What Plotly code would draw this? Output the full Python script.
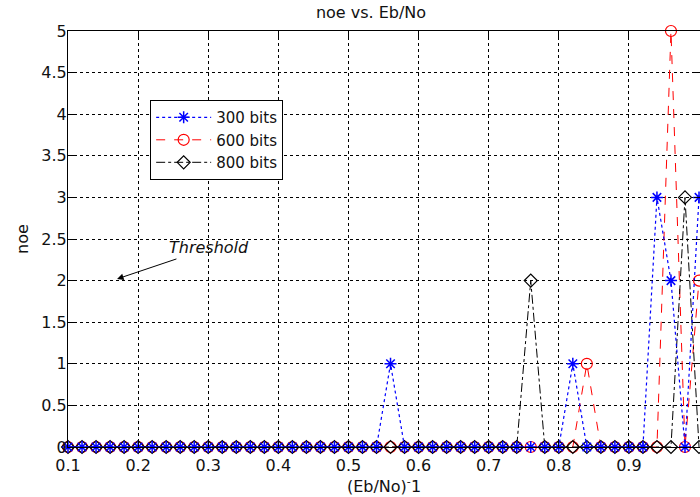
import plotly.graph_objects as go

x_vals = [0.10, 0.12, 0.14, 0.16, 0.18, 0.20, 0.22, 0.24, 0.26, 0.28,
          0.30, 0.32, 0.34, 0.36, 0.38, 0.40, 0.42, 0.44, 0.46, 0.48,
          0.50, 0.52, 0.54, 0.56, 0.58, 0.60, 0.62, 0.64, 0.66, 0.68,
          0.70, 0.72, 0.74, 0.76, 0.78, 0.80, 0.82, 0.84, 0.86, 0.88,
          0.90, 0.92, 0.94, 0.96, 0.98, 1.00]

noe_300 = [0, 0, 0, 0, 0, 0, 0, 0, 0, 0,
           0, 0, 0, 0, 0, 0, 0, 0, 0, 0,
           0, 0, 0, 1, 0, 0, 0, 0, 0, 0,
           0, 0, 0, 0, 0, 0, 1, 0, 0, 0,
           0, 0, 3, 2, 0, 3]
noe_600 = [0, 0, 0, 0, 0, 0, 0, 0, 0, 0,
           0, 0, 0, 0, 0, 0, 0, 0, 0, 0,
           0, 0, 0, 0, 0, 0, 0, 0, 0, 0,
           0, 0, 0, 0, 0, 0, 0, 1, 0, 0,
           0, 0, 0, 5, 0, 2]
noe_800 = [0, 0, 0, 0, 0, 0, 0, 0, 0, 0,
           0, 0, 0, 0, 0, 0, 0, 0, 0, 0,
           0, 0, 0, 0, 0, 0, 0, 0, 0, 0,
           0, 0, 0, 2, 0, 0, 0, 0, 0, 0,
           0, 0, 0, 0, 3, 0]

x_ticks = [0.1, 0.2, 0.3, 0.4, 0.5, 0.6, 0.7, 0.8, 0.9, 1.0]
x_tick_text = ["0.1", "0.2", "0.3", "0.4", "0.5", "0.6", "0.7", "0.8", "0.9", "1"]
y_ticks = [0, 0.5, 1, 1.5, 2, 2.5, 3, 3.5, 4, 4.5, 5]
y_tick_text = ["0", "0.5", "1", "1.5", "2", "2.5", "3", "3.5", "4", "4.5", "5"]

FONT = "DejaVu Sans"
TXT = "#111111"

fig = go.Figure()
fig.add_trace(go.Scatter(
    x=x_vals, y=noe_600, name="600 bits", mode="lines+markers", legendrank=2,
    line=dict(color="#ff0000", width=1, dash="dash"),
    marker=dict(symbol="circle-open", size=11, color="#ff0000", line=dict(width=1.2)),
    cliponaxis=False))
fig.add_trace(go.Scatter(
    x=x_vals, y=noe_800, name="800 bits", mode="lines+markers", legendrank=3,
    line=dict(color="#000000", width=1, dash="dashdot"),
    marker=dict(symbol="diamond-open", size=10, color="#000000", line=dict(width=1.2)),
    cliponaxis=False))
fig.add_trace(go.Scatter(
    x=x_vals, y=noe_300, name="300 bits", mode="lines+markers", legendrank=1,
    line=dict(color="#0000ff", width=1.2, dash="dot"),
    marker=dict(symbol="asterisk-open", size=10, color="#0000ff", line=dict(width=1.5)),
    cliponaxis=False))

fig.add_annotation(
    x=0.170, y=2.02, ax=92, ay=-31, xref="x", yref="y",
    text="<i>Threshold</i>", showarrow=True, arrowhead=2, arrowsize=1.3, arrowwidth=1,
    arrowcolor="#000000", font=dict(family=FONT, size=16, color=TXT))

axis_common = dict(
    showline=True, linecolor="#000000", linewidth=1, mirror="ticks",
    ticks="inside", ticklen=6, tickcolor="#000000",
    showgrid=True, gridcolor="#000000", gridwidth=1, griddash="3px,3px",
    zeroline=False, tickfont=dict(family=FONT, size=16, color=TXT),
    automargin=False,
)

fig.update_xaxes(range=[0.1, 1.0014], tickvals=x_ticks, ticktext=x_tick_text,
                 title=dict(text="(Eb/No)<sup>-</sup>1", font=dict(family=FONT, size=16, color=TXT),
                            standoff=6),
                 ticklabelstandoff=4, **axis_common)
fig.update_yaxes(range=[0, 5], tickvals=y_ticks, ticktext=y_tick_text,
                 title=dict(text="noe", font=dict(family=FONT, size=16, color=TXT), standoff=8),
                 ticklabelstandoff=-3, **axis_common)

fig.update_layout(
    width=700, height=497,
    margin=dict(l=68, r=0, t=31, b=50, autoexpand=False),
    paper_bgcolor="#ffffff", plot_bgcolor="#ffffff",
    title=dict(text="noe vs. Eb/No", x=0.53, xanchor="center", y=0.975, yanchor="middle",
               font=dict(family=FONT, size=16, color=TXT)),
    font=dict(family=FONT, size=16, color=TXT),
    legend=dict(x=0.13, y=0.834, xanchor="left", yanchor="top",
                bgcolor="#ffffff", bordercolor="#000000", borderwidth=1,
                font=dict(family=FONT, size=15, color=TXT),
                itemwidth=55, tracegroupgap=0),
    showlegend=True,
)

fig.write_html("out.html", config={"displayModeBar": False},
               post_script="document.body.style.margin='0';document.body.style.overflow='hidden';")
